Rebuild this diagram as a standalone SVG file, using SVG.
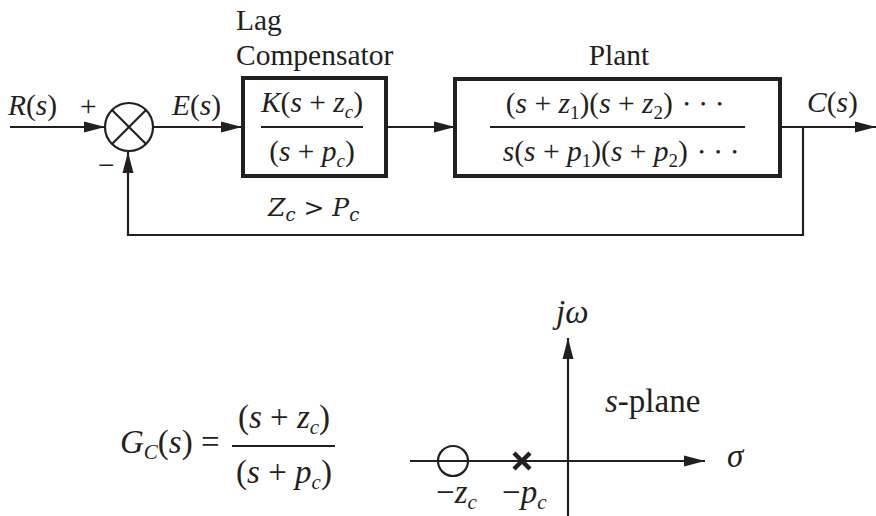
<svg xmlns="http://www.w3.org/2000/svg" width="876" height="516" viewBox="0 0 876 516">
<style>
.t{font-family:"Liberation Serif","Times New Roman",serif;font-size:29.5px;fill:#231f20}
.m{font-family:"Liberation Serif","Times New Roman",serif;font-size:29.5px;fill:#231f20}
.b{font-family:"Liberation Serif","Times New Roman",serif;font-size:33px;fill:#231f20}
.i{font-style:italic}
.sub{font-size:19px;font-style:italic}
.bsub{font-size:21px;font-style:italic}
.dot{font-size:15px}
.ln{stroke:#231f20;stroke-width:2.2;fill:none}
.box{stroke:#231f20;stroke-width:4;fill:#fff}
</style>
<defs>
<marker id="ah" markerUnits="userSpaceOnUse" markerWidth="22" markerHeight="12" refX="21" refY="6" orient="auto">
<path d="M0,0.5 L21,6 L0,11.5 z" fill="#231f20"/>
</marker>
</defs>
<rect width="876" height="516" fill="#fff"/>
<g id="connectors">
<line class="ln" x1="10" y1="127" x2="105" y2="127" marker-end="url(#ah)"/>
<line class="ln" x1="154" y1="127" x2="242" y2="127" marker-end="url(#ah)"/>
<line class="ln" x1="387" y1="127" x2="455" y2="127" marker-end="url(#ah)"/>
<line class="ln" x1="781" y1="127" x2="876" y2="127" marker-end="url(#ah)"/>
<polyline class="ln" points="803,127 803,235 128,235 128,152" marker-end="url(#ah)"/>
</g>
<g id="labels">
<text class="m" x="8" y="115"><tspan class="i">R</tspan>(<tspan class="i">s</tspan>)</text>
<text class="t" x="80" y="116" font-size="30">+</text>
<text class="t" x="98" y="175" font-size="30">−</text>
<text class="m" x="172" y="115"><tspan class="i">E</tspan>(<tspan class="i">s</tspan>)</text>
<text class="m" x="807" y="112"><tspan class="i">C</tspan>(<tspan class="i">s</tspan>)</text>
<text x="268" y="216" font-family="'DejaVu Serif','Liberation Serif',serif" font-style="italic" font-size="25" fill="#231f20">Z<tspan font-size="18" dy="5">c</tspan><tspan dy="-5"> &gt; P</tspan><tspan font-size="18" dy="5">c</tspan></text>
</g>
<g id="sum">
<circle cx="129" cy="127" r="24" class="ln" fill="#fff"/>
<line class="ln" x1="112" y1="110" x2="146" y2="144"/>
<line class="ln" x1="146" y1="110" x2="112" y2="144"/>
</g>
<g id="compensator">
<text class="t" x="236" y="30">Lag</text>
<text class="t" x="236" y="65">Compensator</text>
<rect class="box" x="243" y="78" width="143" height="98"/>
<text class="m" x="312" y="112" text-anchor="middle"><tspan class="i">K</tspan>(<tspan class="i">s</tspan> + <tspan class="i">z</tspan><tspan class="sub" dy="6">c</tspan><tspan dy="-6">)</tspan></text>
<line class="ln" x1="261" y1="127" x2="363" y2="127"/>
<text class="m" x="312" y="161" text-anchor="middle">(<tspan class="i">s</tspan> + <tspan class="i">p</tspan><tspan class="sub" dy="6">c</tspan><tspan dy="-6">)</tspan></text>
</g>
<g id="plant">
<text class="t" x="619" y="65" text-anchor="middle">Plant</text>
<rect class="box" x="455" y="79" width="325" height="97"/>
<text class="m" x="614" y="113" text-anchor="middle">(<tspan class="i">s</tspan> + <tspan class="i">z</tspan><tspan font-size="19" dy="6">1</tspan><tspan dy="-6">)(</tspan><tspan class="i">s</tspan> + <tspan class="i">z</tspan><tspan font-size="19" dy="6">2</tspan><tspan dy="-6">)&#160;</tspan><tspan class="dot" dy="-4">&#160;•&#160;&#160;&#160;•&#160;&#160;&#160;•</tspan></text>
<line class="ln" x1="490" y1="127" x2="745" y2="127"/>
<text class="m" x="620" y="161" text-anchor="middle"><tspan class="i">s</tspan>(<tspan class="i">s</tspan> + <tspan class="i">p</tspan><tspan font-size="19" dy="6">1</tspan><tspan dy="-6">)(</tspan><tspan class="i">s</tspan> + <tspan class="i">p</tspan><tspan font-size="19" dy="6">2</tspan><tspan dy="-6">)&#160;</tspan><tspan class="dot" dy="-4">&#160;•&#160;&#160;&#160;•&#160;&#160;&#160;•</tspan></text>
</g>
<g id="gc-formula">
<text class="b" x="120" y="453"><tspan class="i">G</tspan><tspan class="bsub" dy="6">C</tspan><tspan dy="-6">(</tspan><tspan class="i">s</tspan>) =</text>
<text class="b" x="284" y="428" text-anchor="middle">(<tspan class="i">s</tspan> + <tspan class="i">z</tspan><tspan class="bsub" dy="6">c</tspan><tspan dy="-6">)</tspan></text>
<line class="ln" x1="232" y1="446" x2="335" y2="446"/>
<text class="b" x="284" y="483" text-anchor="middle">(<tspan class="i">s</tspan> + <tspan class="i">p</tspan><tspan class="bsub" dy="6">c</tspan><tspan dy="-6">)</tspan></text>
</g>
<g id="s-plane">
<line class="ln" x1="410" y1="461" x2="705" y2="461" marker-end="url(#ah)" stroke-width="2.6"/>
<line class="ln" x1="568" y1="516" x2="568" y2="338" marker-end="url(#ah)" stroke-width="2.6"/>
<circle cx="453" cy="461" r="15" class="ln" fill="#fff"/>
<path d="M514,453 L530,469 M530,453 L514,469" stroke="#231f20" stroke-width="4.5" fill="none"/>
<text class="b" x="556" y="323"><tspan class="i">j</tspan><tspan class="i">ω</tspan></text>
<text class="b" x="605" y="412"><tspan class="i">s</tspan>-plane</text>
<text class="b i" x="727" y="467">σ</text>
<text class="b" x="436" y="503">−<tspan class="i">z</tspan><tspan class="bsub" dy="6">c</tspan></text>
<text class="b" x="502" y="503">−<tspan class="i">p</tspan><tspan class="bsub" dy="6">c</tspan></text>
</g>
</svg>
